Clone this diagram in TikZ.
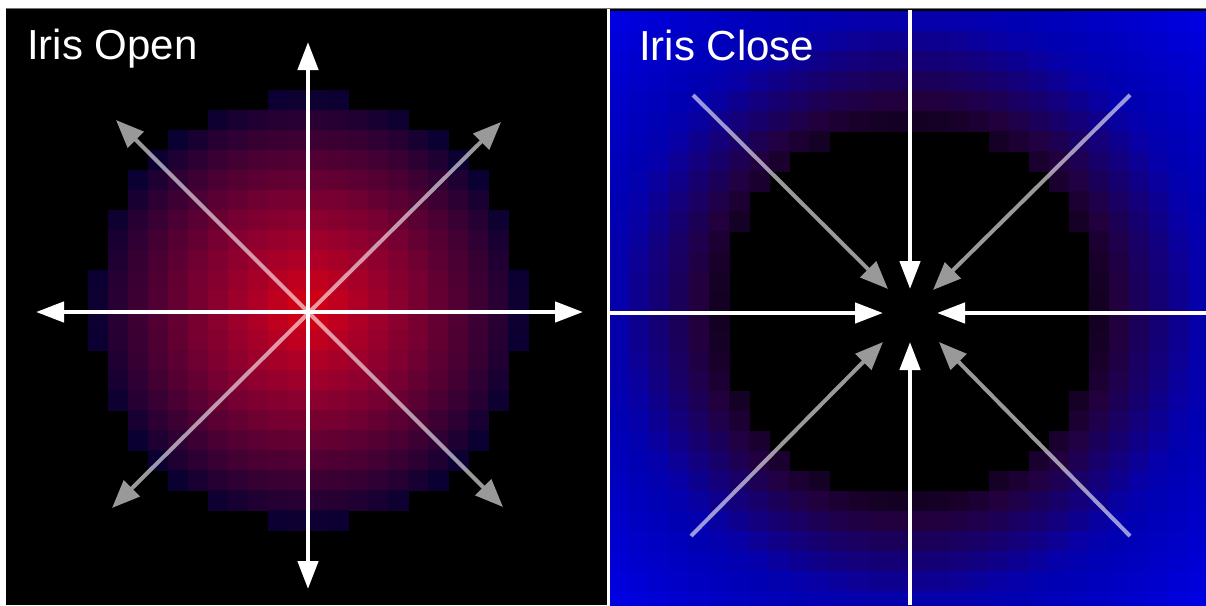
\documentclass[tikz,border=0pt]{standalone}
\usepackage{fontspec}
\setmainfont{Liberation Sans}
\usetikzlibrary{arrows.meta}
\tikzset{
  whiteline/.style={draw=white, line width=4.5pt},
  whitehead/.tip={Triangle[length=28pt,width=20pt]},
  grayhead/.tip={Triangle[length=28pt,width=22pt]},
  grayline/.style={draw=white, fill=white, line width=4pt},
  graygroup/.style={transparency group, opacity=0.6},
  label/.style={anchor=base west, inner sep=0pt, text=white, font=\fontsize{42}{50}\selectfont}
}
\begin{document}
\begin{tikzpicture}[x=1pt,y=-1pt]
\useasboundingbox (0,0) rectangle (1206,605);
\fill[white] (0,0) rectangle (1206,605);
\fill[black!55] (6,8) rectangle (1206,9.3);
\fill[black] (6,9) rectangle (606.5,605);
\fill[black] (610,9) rectangle (1206,605);
% left pixel disc
\foreach \i in {0,...,21}{
  \foreach \j in {0,...,21}{
    \pgfmathsetmacro\cellD{sqrt((\i-10.5)^2+(\j-10.5)^2)}
    \pgfmathtruncatemacro\cellIn{\cellD<10.75}
    \ifnum\cellIn=1
      \pgfmathsetmacro\cellT{\cellD/11}
      \pgfmathtruncatemacro\cellR{218*(1-\cellT)^0.85}
      \pgfmathtruncatemacro\cellB{90*sqrt(\cellT)*(1-0.45*\cellT)}
      \pgfmathsetmacro\cellX{88+20*\i}
      \pgfmathsetmacro\cellY{90+20*\j}
      \definecolor{cellc}{RGB}{\cellR,0,\cellB}
      \fill[cellc] (\cellX,\cellY) rectangle ++(20.6,20.6);
    \fi
  }
}
% right pixel field
\begin{scope}
\clip (610,10) rectangle (1206,605);
\foreach \i in {-15,...,14}{
  \foreach \j in {-15,...,14}{
    \pgfmathsetmacro\cellD{sqrt((\i+0.5)^2+(\j+0.5)^2)}
    \pgfmathtruncatemacro\cellOut{\cellD>=9.4}
    \ifnum\cellOut=1
      \pgfmathtruncatemacro\cellB{min(230, \cellD<14.5 ? 35+27*(\cellD-9.5) : 170+9.2*(\cellD-14.5))}
      \pgfmathtruncatemacro\cellR{\cellD<10.5 ? 20+15*(\cellD-9.5) : max(0,35-7*(\cellD-10.5))}
      \pgfmathsetmacro\cellX{909+20*\i}
      \pgfmathsetmacro\cellY{311+20*\j}
      \definecolor{cellc}{RGB}{\cellR,0,\cellB}
      \fill[cellc] (\cellX,\cellY) rectangle ++(20.6,20.6);
    \fi
  }
}
\end{scope}
\fill[white] (606.5,9) rectangle (610,605);
% left arrows
\coordinate (Ltop) at (308,42);
\coordinate (Lbot) at (308,589);
\coordinate (Lleft) at (36,312);
\coordinate (Lright) at (583,312);
\coordinate (LdTL) at (116,120);
\coordinate (LdBR) at (503,507);
\coordinate (LdTR) at (501,122);
\coordinate (LdBL) at (112,508);
\begin{scope}[graygroup]
\draw[grayline, grayhead-grayhead] (LdTL) -- (LdBR);
\end{scope}
\begin{scope}[graygroup]
\draw[grayline, grayhead-grayhead] (LdTR) -- (LdBL);
\end{scope}
\draw[whiteline, whitehead-whitehead] (Ltop) -- (Lbot);
\draw[whiteline, whitehead-whitehead] (Lleft) -- (Lright);
% right arrows
\coordinate (Rtop) at (910,10);
\coordinate (RtopTip) at (910,289);
\coordinate (Rbot) at (910,605);
\coordinate (RbotTip) at (910,342);
\coordinate (Rleft) at (610,313);
\coordinate (RleftTip) at (883,313);
\coordinate (Rright) at (1206,313);
\coordinate (RrightTip) at (937,313);
\coordinate (RdTL) at (693,95);
\coordinate (RdTLtip) at (888,289);
\coordinate (RdTR) at (1130,95);
\coordinate (RdTRtip) at (933,290);
\coordinate (RdBL) at (691,536);
\coordinate (RdBLtip) at (883,342);
\coordinate (RdBR) at (1130,536);
\coordinate (RdBRtip) at (939,342);
\begin{scope}[graygroup]
\draw[grayline, -grayhead] (RdTL) -- (RdTLtip);
\end{scope}
\begin{scope}[graygroup]
\draw[grayline, -grayhead] (RdTR) -- (RdTRtip);
\end{scope}
\begin{scope}[graygroup]
\draw[grayline, -grayhead] (RdBL) -- (RdBLtip);
\end{scope}
\begin{scope}[graygroup]
\draw[grayline, -grayhead] (RdBR) -- (RdBRtip);
\end{scope}
\draw[whiteline, -whitehead] (Rtop) -- (RtopTip);
\draw[whiteline, -whitehead] (Rbot) -- (RbotTip);
\draw[whiteline, -whitehead] (Rleft) -- (RleftTip);
\draw[whiteline, -whitehead] (Rright) -- (RrightTip);
% labels
\node[label] (open) at (27,59) {Iris Open};
\node[label] (close) at (639,60) {Iris Close};
\end{tikzpicture}
\end{document}
